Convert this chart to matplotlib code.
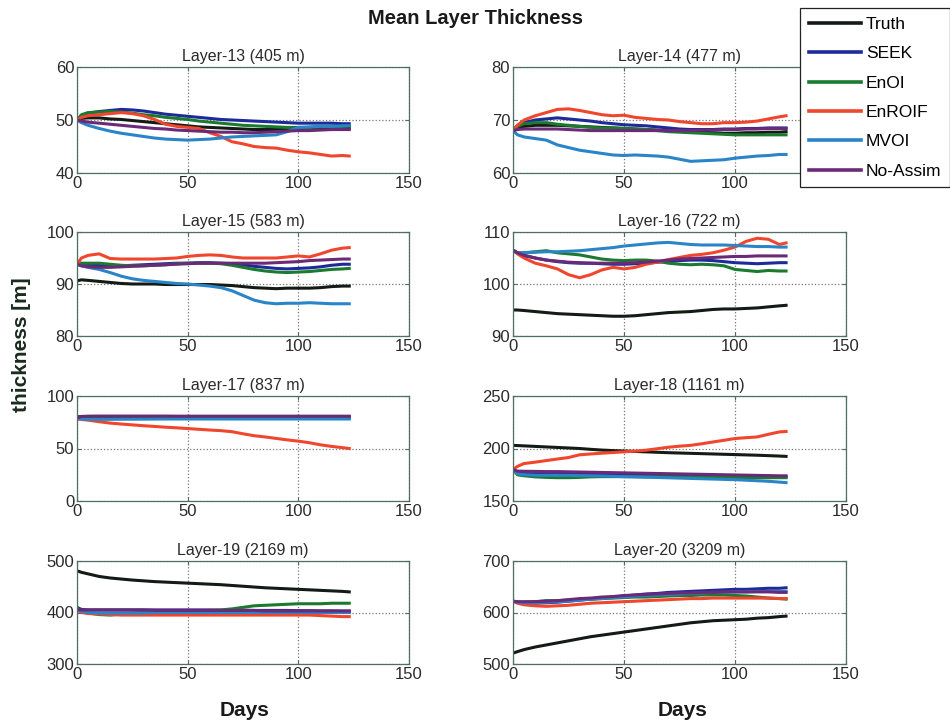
import matplotlib
matplotlib.use("Agg")
import matplotlib.pyplot as plt
from matplotlib.lines import Line2D

plt.rcParams['font.family'] = ['Liberation Sans', 'DejaVu Sans']

DAYS = [0, 2, 5, 10, 15, 20, 25, 30, 35, 40, 45, 50, 55, 60, 65, 70, 75, 80, 85, 90, 95, 100, 105, 110, 115, 120, 123]

SERIES = ['Truth', 'SEEK', 'EnOI', 'EnROIF', 'MVOI', 'No-Assim']
COLORS = ['#141a14', '#1c2a9a', '#1b7a30', '#f0462d', '#2a84c8', '#6b2a78']

TITLES = ['Layer-13 (405 m)', 'Layer-14 (477 m)', 'Layer-15 (583 m)', 'Layer-16 (722 m)',
          'Layer-17 (837 m)', 'Layer-18 (1161 m)', 'Layer-19 (2169 m)', 'Layer-20 (3209 m)']
YLIMS = [(40, 60), (60, 80), (80, 100), (90, 110), (0, 100), (150, 250), (300, 500), (500, 700)]

# layer 13
l13_truth = [50.0, 50.3, 50.4, 50.4, 50.2, 50.1, 49.9, 49.7, 49.5, 49.3, 49.1, 48.9, 48.7, 48.6, 48.5, 48.4, 48.3, 48.2, 48.2, 48.2, 48.3, 48.3, 48.4, 48.4, 48.5, 48.5, 48.5]
l13_seek = [50.0, 50.8, 51.3, 51.6, 51.8, 52.0, 51.9, 51.7, 51.4, 51.1, 50.9, 50.7, 50.5, 50.3, 50.1, 50.0, 49.9, 49.8, 49.7, 49.6, 49.5, 49.4, 49.4, 49.4, 49.4, 49.3, 49.3]
l13_enoi = [50.0, 51.0, 51.4, 51.5, 51.6, 51.5, 51.3, 51.0, 50.8, 50.5, 50.3, 50.1, 49.8, 49.6, 49.4, 49.2, 49.0, 48.9, 48.8, 48.7, 48.6, 48.6, 48.6, 48.7, 48.8, 48.8, 48.9]
l13_enroif = [50.0, 50.5, 50.8, 51.0, 51.2, 51.4, 51.2, 50.8, 50.1, 49.2, 48.8, 48.6, 48.4, 47.6, 46.9, 45.9, 45.5, 45.0, 44.8, 44.7, 44.3, 44.0, 43.8, 43.5, 43.2, 43.3, 43.2]
l13_mvoi = [50.0, 49.5, 49.0, 48.4, 47.9, 47.5, 47.2, 46.9, 46.6, 46.4, 46.3, 46.2, 46.3, 46.4, 46.6, 46.8, 46.9, 47.0, 47.1, 47.2, 47.8, 48.6, 48.7, 48.8, 48.8, 48.9, 48.9]
l13_noassim = [50.0, 49.8, 49.6, 49.4, 49.2, 49.0, 48.8, 48.6, 48.4, 48.3, 48.1, 48.0, 47.9, 47.8, 47.7, 47.7, 47.6, 47.6, 47.7, 47.8, 47.9, 48.0, 48.0, 48.1, 48.2, 48.2, 48.2]

# layer 14
l14_truth = [68.0, 68.5, 68.8, 69.0, 69.0, 69.0, 68.9, 68.8, 68.7, 68.6, 68.5, 68.4, 68.3, 68.2, 68.1, 68.0, 67.9, 67.8, 67.7, 67.6, 67.5, 67.5, 67.6, 67.6, 67.7, 67.7, 67.8]
l14_seek = [68.0, 69.0, 69.5, 70.0, 70.2, 70.4, 70.2, 70.0, 69.8, 69.5, 69.3, 69.1, 69.0, 68.9, 68.7, 68.5, 68.3, 68.2, 68.2, 68.2, 68.3, 68.3, 68.4, 68.4, 68.5, 68.5, 68.5]
l14_enoi = [68.0, 68.8, 69.3, 69.5, 69.5, 69.2, 69.0, 68.8, 68.6, 68.5, 68.5, 68.4, 68.3, 68.2, 68.0, 67.8, 67.7, 67.6, 67.5, 67.4, 67.3, 67.2, 67.2, 67.2, 67.2, 67.2, 67.2]
l14_enroif = [68.0, 69.0, 70.0, 70.8, 71.4, 72.0, 72.1, 71.8, 71.4, 71.0, 70.8, 70.9, 70.5, 70.3, 70.1, 70.0, 69.7, 69.5, 69.3, 69.3, 69.5, 69.5, 69.6, 69.8, 70.2, 70.6, 70.8]
l14_mvoi = [68.0, 67.2, 66.8, 66.5, 66.2, 65.3, 64.8, 64.3, 64.0, 63.7, 63.4, 63.3, 63.4, 63.3, 63.2, 63.0, 62.6, 62.2, 62.3, 62.4, 62.5, 62.8, 63.0, 63.2, 63.3, 63.5, 63.5]
l14_noassim = [68.0, 68.2, 68.3, 68.3, 68.3, 68.3, 68.2, 68.1, 68.0, 68.0, 68.0, 68.0, 68.0, 68.0, 68.0, 68.0, 68.0, 68.0, 68.1, 68.1, 68.2, 68.2, 68.3, 68.3, 68.4, 68.4, 68.4]

# layer 15
l15_truth = [90.6, 90.8, 90.7, 90.5, 90.3, 90.1, 90.0, 90.0, 90.0, 89.9, 89.9, 89.9, 89.9, 89.9, 89.8, 89.7, 89.5, 89.3, 89.2, 89.1, 89.2, 89.2, 89.2, 89.3, 89.5, 89.6, 89.6]
l15_seek = [93.8, 93.8, 93.7, 93.6, 93.5, 93.5, 93.6, 93.7, 93.8, 93.9, 94.0, 94.0, 94.1, 94.1, 94.0, 93.9, 93.7, 93.4, 93.2, 93.0, 92.9, 93.0, 93.1, 93.3, 93.6, 93.8, 93.8]
l15_enoi = [93.8, 94.0, 94.0, 94.0, 93.8, 93.6, 93.5, 93.5, 93.6, 93.7, 93.9, 94.0, 94.0, 94.0, 93.9, 93.6, 93.2, 92.8, 92.5, 92.3, 92.2, 92.3, 92.4, 92.6, 92.8, 92.9, 93.0]
l15_enroif = [93.8, 95.0, 95.5, 95.8, 94.9, 94.8, 94.8, 94.8, 94.8, 94.9, 95.0, 95.3, 95.5, 95.6, 95.5, 95.2, 95.0, 95.0, 95.0, 95.0, 95.2, 95.4, 95.2, 95.8, 96.5, 96.9, 97.0]
l15_mvoi = [93.8, 93.5, 93.2, 92.8, 92.2, 91.5, 91.0, 90.7, 90.5, 90.3, 90.1, 90.0, 89.8, 89.6, 89.3, 88.7, 87.8, 86.9, 86.4, 86.2, 86.3, 86.3, 86.4, 86.3, 86.2, 86.2, 86.2]
l15_noassim = [93.8, 93.5, 93.3, 93.2, 93.2, 93.3, 93.4, 93.5, 93.6, 93.7, 93.8, 93.9, 94.0, 94.0, 94.0, 94.0, 94.0, 94.0, 94.0, 94.1, 94.2, 94.3, 94.5, 94.6, 94.7, 94.8, 94.8]

# layer 16
l16_truth = [95.0, 95.0, 94.9, 94.7, 94.5, 94.3, 94.2, 94.1, 94.0, 93.9, 93.8, 93.8, 93.9, 94.1, 94.3, 94.5, 94.6, 94.7, 94.9, 95.1, 95.2, 95.2, 95.3, 95.4, 95.6, 95.8, 95.9]
l16_seek = [106.5, 106.0, 105.5, 105.0, 104.6, 104.3, 104.1, 104.0, 104.0, 103.9, 103.8, 103.8, 103.9, 104.0, 104.2, 104.3, 104.5, 104.6, 104.6, 104.5, 104.3, 104.1, 104.0, 103.9, 104.0, 104.1, 104.1]
l16_enoi = [106.5, 106.0, 106.0, 106.2, 106.4, 106.0, 105.8, 105.6, 105.2, 104.8, 104.6, 104.5, 104.6, 104.6, 104.4, 104.0, 103.8, 103.7, 103.8, 103.7, 103.5, 102.8, 102.6, 102.4, 102.6, 102.5, 102.5]
l16_enroif = [106.5, 105.8, 105.0, 104.0, 103.5, 102.9, 101.8, 101.2, 101.8, 102.7, 103.2, 102.9, 103.2, 103.8, 104.2, 104.7, 105.1, 105.5, 105.7, 106.0, 106.5, 107.1, 108.2, 108.8, 108.6, 107.6, 107.9]
l16_mvoi = [106.5, 106.0, 106.0, 106.1, 106.2, 106.2, 106.3, 106.4, 106.6, 106.8, 107.0, 107.3, 107.5, 107.7, 107.9, 108.0, 107.8, 107.6, 107.5, 107.5, 107.5, 107.4, 107.3, 107.2, 107.2, 107.1, 107.1]
l16_noassim = [106.5, 106.0, 105.5, 105.0, 104.6, 104.4, 104.2, 104.1, 104.0, 104.0, 104.0, 104.0, 104.1, 104.2, 104.4, 104.6, 104.8, 104.9, 105.0, 105.1, 105.2, 105.3, 105.3, 105.4, 105.4, 105.4, 105.4]

# layer 17
l17_truth = [80.0, 80.5, 80.4, 80.3, 80.2, 80.2, 80.1, 80.1, 80.0, 80.0, 80.0, 80.0, 80.0, 80.0, 80.0, 80.0, 80.0, 80.0, 80.0, 80.0, 80.0, 80.0, 80.0, 80.0, 80.0, 80.0, 80.0]
l17_seek = [79.0, 79.5, 79.6, 79.6, 79.5, 79.5, 79.5, 79.5, 79.4, 79.4, 79.4, 79.4, 79.4, 79.4, 79.3, 79.3, 79.3, 79.3, 79.3, 79.3, 79.3, 79.2, 79.2, 79.2, 79.2, 79.2, 79.2]
l17_enoi = [79.0, 78.5, 78.3, 78.2, 78.2, 78.3, 78.4, 78.5, 78.5, 78.6, 78.6, 78.6, 78.7, 78.7, 78.7, 78.8, 78.8, 78.8, 78.8, 78.8, 78.8, 78.8, 78.8, 78.8, 78.8, 78.8, 78.8]
l17_enroif = [78.0, 77.7, 77.0, 75.5, 74.2, 73.3, 72.5, 71.7, 71.0, 70.3, 69.7, 69.0, 68.3, 67.6, 67.0, 66.0, 64.0, 62.2, 61.0, 59.6, 58.2, 57.0, 55.5, 53.5, 52.0, 50.8, 50.0]
l17_mvoi = [79.0, 78.0, 77.8, 77.8, 77.9, 78.0, 78.0, 78.0, 78.1, 78.1, 78.1, 78.1, 78.1, 78.1, 78.1, 78.1, 78.1, 78.1, 78.1, 78.1, 78.1, 78.1, 78.1, 78.1, 78.1, 78.1, 78.1]
l17_noassim = [79.0, 80.5, 80.8, 80.9, 80.9, 80.9, 80.9, 80.9, 80.9, 80.9, 80.8, 80.8, 80.8, 80.8, 80.8, 80.8, 80.8, 80.8, 80.8, 80.8, 80.8, 80.8, 80.8, 80.8, 80.8, 80.8, 80.8]

# layer 18
l18_truth = [203.0, 202.8, 202.5, 202.0, 201.5, 201.0, 200.5, 200.0, 199.2, 198.5, 198.0, 197.6, 197.2, 196.8, 196.4, 196.0, 195.7, 195.4, 195.1, 194.8, 194.5, 194.2, 193.9, 193.6, 193.2, 192.8, 192.5]
l18_seek = [180.0, 176.5, 176.0, 176.0, 176.0, 176.0, 176.0, 176.0, 175.8, 175.6, 175.4, 175.2, 175.0, 174.8, 174.6, 174.4, 174.2, 174.0, 173.8, 173.6, 173.4, 173.2, 173.0, 173.0, 173.0, 173.0, 173.0]
l18_enoi = [180.0, 175.0, 174.0, 173.0, 172.5, 172.2, 172.2, 172.5, 173.0, 173.2, 173.2, 173.2, 173.1, 173.0, 173.0, 173.0, 172.9, 172.8, 172.7, 172.6, 172.5, 172.4, 172.3, 172.2, 172.2, 172.2, 172.2]
l18_enroif = [180.0, 183.0, 185.7, 187.0, 188.5, 190.0, 191.4, 194.0, 194.8, 195.5, 196.2, 196.8, 197.5, 198.4, 199.8, 201.2, 202.2, 203.0, 204.5, 206.2, 207.8, 209.5, 210.3, 211.0, 213.5, 215.8, 216.2]
l18_mvoi = [180.0, 176.0, 175.0, 174.5, 174.5, 174.5, 174.4, 174.2, 174.0, 173.8, 173.5, 173.2, 173.0, 172.7, 172.4, 172.1, 171.8, 171.5, 171.2, 170.9, 170.6, 170.3, 169.8, 169.3, 168.8, 168.0, 167.5]
l18_noassim = [180.0, 178.5, 178.3, 178.2, 178.0, 178.0, 177.8, 177.6, 177.4, 177.2, 177.0, 176.8, 176.6, 176.4, 176.2, 176.0, 175.8, 175.6, 175.4, 175.2, 175.0, 174.8, 174.6, 174.4, 174.2, 174.0, 174.0]

# layer 19
l19_truth = [481, 478, 475, 470, 467, 465, 463, 461.5, 460, 459, 458, 457, 456, 455, 454, 452.5, 451, 449.5, 448, 447, 446, 445, 444, 443, 442, 441, 440]
l19_seek = [410, 406, 405, 405, 405, 405, 405, 405, 405, 405, 405, 405, 405, 405, 404.5, 404.5, 404.5, 404, 404, 404, 404, 403.5, 403.5, 403, 403, 402.5, 402.5]
l19_enoi = [410, 402, 399, 396, 395, 397, 399, 400, 401, 402, 402, 403, 403, 404, 405, 407, 410, 413, 414, 415, 416, 417, 417, 417, 418, 418, 418]
l19_enroif = [405, 400, 398, 397, 396, 395, 395, 395, 395, 395, 395, 395, 395, 395, 395, 395, 395, 395, 395, 395, 395, 395, 395, 394, 393, 392, 392]
l19_mvoi = [405, 402, 400, 399, 399, 399, 399, 399, 400, 400, 400, 400, 400, 400, 400, 400, 400, 400, 400, 400, 400, 400, 400, 400, 400, 400, 400]
l19_noassim = [406, 405, 405, 405, 405, 405, 405, 405, 404, 404, 404, 404, 404, 404, 404, 404, 404, 404, 403, 403, 403, 403, 403, 403, 403, 403, 403]

# layer 20
l20_truth = [521, 524, 528, 533, 537, 541, 545, 549, 553, 556, 559, 562, 565, 568, 571, 574, 577, 580, 582, 584, 585, 586, 587, 589, 590, 592, 593]
l20_seek = [622, 620, 618, 618, 619, 620, 622, 624, 626, 628, 630, 632, 634, 636, 637, 639, 640, 641, 642, 643, 644, 645, 645, 646, 647, 647, 648]
l20_enoi = [622, 620, 620, 621, 623, 623, 624, 625, 626, 627, 628, 629, 630, 630, 631, 632, 633, 633, 634, 634, 634, 633, 632, 630, 628, 627, 626]
l20_enroif = [622, 618, 615, 613, 612, 613, 614, 616, 618, 619, 620, 621, 622, 623, 624, 625, 626, 627, 627, 628, 628, 628, 628, 628, 628, 627, 627]
l20_mvoi = [622, 620, 619, 619, 620, 621, 622, 624, 626, 627, 629, 630, 632, 633, 634, 635, 636, 637, 638, 639, 639, 640, 640, 641, 641, 641, 641]
l20_noassim = [622, 621, 621, 621, 622, 623, 625, 627, 628, 630, 631, 633, 634, 635, 636, 637, 638, 638, 639, 639, 640, 640, 640, 640, 640, 639, 639]

PANELS = [
    [l13_truth, l13_seek, l13_enoi, l13_enroif, l13_mvoi, l13_noassim],
    [l14_truth, l14_seek, l14_enoi, l14_enroif, l14_mvoi, l14_noassim],
    [l15_truth, l15_seek, l15_enoi, l15_enroif, l15_mvoi, l15_noassim],
    [l16_truth, l16_seek, l16_enoi, l16_enroif, l16_mvoi, l16_noassim],
    [l17_truth, l17_seek, l17_enoi, l17_enroif, l17_mvoi, l17_noassim],
    [l18_truth, l18_seek, l18_enoi, l18_enroif, l18_mvoi, l18_noassim],
    [l19_truth, l19_seek, l19_enoi, l19_enroif, l19_mvoi, l19_noassim],
    [l20_truth, l20_seek, l20_enoi, l20_enroif, l20_mvoi, l20_noassim],
]

W, H = 950, 724
fig = plt.figure(figsize=(W / 100, H / 100), dpi=100)

col_left = [77, 513]
col_width = [332, 333]
row_top = [67, 232, 396, 561]
row_bot = [173, 336, 501, 664]

spine_col = '#4f6f62'
text_col = '#2a2a2a'

for i, (title, ylim, lines) in enumerate(zip(TITLES, YLIMS, PANELS)):
    r, c = divmod(i, 2)
    ax = fig.add_axes([col_left[c] / W, 1 - row_bot[r] / H,
                       col_width[c] / W, (row_bot[r] - row_top[r]) / H])
    for vals, name, col in zip(lines, SERIES, COLORS):
        ax.plot(DAYS, vals, color=col, lw=2.2, label=name)
    ax.set_xlim(0, 150)
    ax.set_ylim(*ylim)
    ax.set_xticks([0, 50, 100, 150])
    ax.set_yticks([ylim[0], (ylim[0] + ylim[1]) / 2, ylim[1]])
    ax.set_yticklabels([str(int(v)) for v in ax.get_yticks()])
    ax.grid(True, linestyle=':', color='#777777', lw=0.9)
    ax.tick_params(direction='in', length=3, labelsize=12, colors=spine_col,
                   labelcolor=text_col, pad=2, top=True, right=True)
    for s in ax.spines.values():
        s.set_color(spine_col)
        s.set_linewidth(0.9)
    ax.set_title(title, fontsize=11.5, color=text_col, pad=4)

fig.text(475 / W, 1 - 19 / H, 'Mean Layer Thickness', fontsize=14.5, fontweight='bold',
         ha='center', va='center', color='#1a1a1a')
fig.text(22 / W, 1 - 345 / H, 'thickness [m]', fontsize=15, fontweight='bold',
         rotation=90, ha='center', va='center', color='#1a2a22')
fig.text(245 / W, 1 - 710 / H, 'Days', fontsize=15, fontweight='bold',
         ha='center', va='center', color='#1a1a1a')
fig.text(683 / W, 1 - 710 / H, 'Days', fontsize=15, fontweight='bold',
         ha='center', va='center', color='#1a1a1a')

handles = [Line2D([], [], color=col, lw=2.6) for col in COLORS]
leg = fig.legend(handles, SERIES, loc='upper left', bbox_to_anchor=(800 / W, 1 - 8 / H),
                 borderaxespad=0, fontsize=12.5, handlelength=3.0, handletextpad=0.3,
                 labelspacing=0.82, borderpad=0.5, fancybox=False, framealpha=1,
                 edgecolor='#222222')
leg.get_frame().set_linewidth(0.9)
leg.set_zorder(10)

fig.savefig('out.png', dpi=100)
